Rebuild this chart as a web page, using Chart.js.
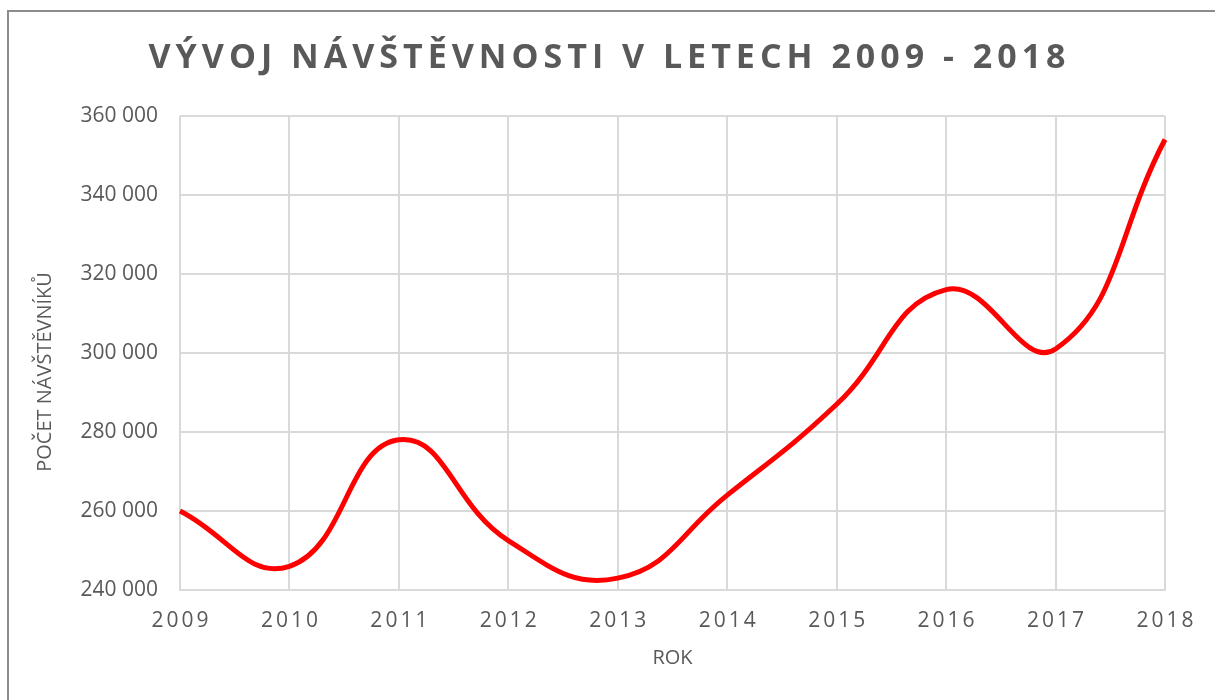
<!DOCTYPE html>
<html>
<head>
<meta charset="utf-8">
<script src="https://cdn.jsdelivr.net/npm/chart.js@4/dist/chart.umd.min.js"></script>
<style>
  html, body { margin: 0; padding: 0; background: #fff; }
  #wrap { position: relative; width: 1215px; height: 700px; overflow: hidden; }
  #frame { position: absolute; left: 7px; top: 10px; width: 1400px; height: 900px;
           border-top: 2px solid #8c8c8c; border-left: 2px solid #8c8c8c; pointer-events: none; }
  canvas { position: absolute; left: 0; top: 0; }
</style>
</head>
<body>
<div id="wrap">
  <canvas id="c" width="1215" height="700"></canvas>
  <div id="frame"></div>
</div>
<script>
const chartTitle = 'VÝVOJ NÁVŠTĚVNOSTI V LETECH 2009 - 2018';
const xAxisTitle = 'ROK';
const yAxisTitle = 'POČET NÁVŠTĚVNÍKŮ';
const years = ['2009', '2010', '2011', '2012', '2013', '2014', '2015', '2016', '2017', '2018'];
const visitors = [260000, 246000, 278000, 252500, 243000, 264000, 287000, 316000, 301000, 354000];
const yMin = 240000;
const yMax = 360000;
const yStep = 20000;

const grey = '#595959';

function fmt(v) {
  return String(v).replace(/\B(?=(\d{3})+(?!\d))/g, '\u00a0');
}

const spacingPlugin = {
  id: 'spacing',
  beforeDraw(chart) {
    const ctx = chart.ctx;
    const tb = chart.titleBlock;
    if (tb && !tb._spaced) {
      const orig = tb.draw;
      tb.draw = function () {
        ctx.save(); ctx.translate(27, 0); ctx.letterSpacing = '5px'; orig.apply(this, arguments); ctx.restore();
      };
      tb._spaced = true;
    }
    const xs = chart.scales.x;
    if (xs && !xs._spaced) {
      const origL = xs.drawLabels;
      xs.drawLabels = function () {
        ctx.save(); ctx.translate(1.5, 0); ctx.letterSpacing = '3px'; origL.apply(this, arguments); ctx.restore();
      };
      xs._spaced = true;
    }
    const ys = chart.scales.y;
    if (ys && !ys._shifted) {
      const origT = ys.drawTitle;
      ys.drawTitle = function () {
        ctx.save(); ctx.translate(0, 19); origT.apply(this, arguments); ctx.restore();
      };
      ys._shifted = true;
    }
  }
};

new Chart(document.getElementById('c'), {
  type: 'line',
  data: {
    labels: years,
    datasets: [{
      data: visitors,
      borderColor: '#ff0000',
      backgroundColor: '#ff0000',
      borderWidth: 5,
      pointRadius: 0,
      tension: 0.45,
      fill: false,
      clip: false
    }]
  },
  plugins: [spacingPlugin],
  options: {
    responsive: false,
    animation: false,
    layout: { padding: { left: 0, right: 50, top: 0, bottom: 0 } },
    plugins: {
      legend: { display: false },
      tooltip: { enabled: false },
      title: {
        display: true,
        text: chartTitle,
        color: grey,
        font: { family: 'Open Sans', size: 34, weight: 'bold', lineHeight: 1.2 },
        padding: { top: 38, bottom: 37 }
      }
    },
    scales: {
      x: {
        offset: false,
        grid: { color: '#d9d9d9', lineWidth: 2, drawTicks: false },
        border: { color: '#d9d9d9', width: 2 },
        ticks: { color: grey, font: { family: 'Open Sans', size: 21 }, padding: 18, maxRotation: 0 },
        title: { display: true, text: xAxisTitle, color: grey,
                 font: { family: 'Open Sans', size: 20, lineHeight: 1.2 }, padding: { top: 0, bottom: 30 } },
        afterFit(scale) { scale.height = 110; }
      },
      y: {
        min: yMin,
        max: yMax,
        grid: { color: '#d9d9d9', lineWidth: 2, drawTicks: false },
        border: { display: false },
        ticks: { stepSize: yStep, color: grey, font: { family: 'Open Sans', size: 21 }, padding: 22,
                 callback: (v) => fmt(v) },
        title: { display: true, text: yAxisTitle, color: grey,
                 font: { family: 'Open Sans', size: 20, lineHeight: 1.2 }, padding: { top: 33, bottom: 0 } },
        afterFit(scale) { scale.width = 180; }
      }
    }
  }
});
</script>
</body>
</html>
